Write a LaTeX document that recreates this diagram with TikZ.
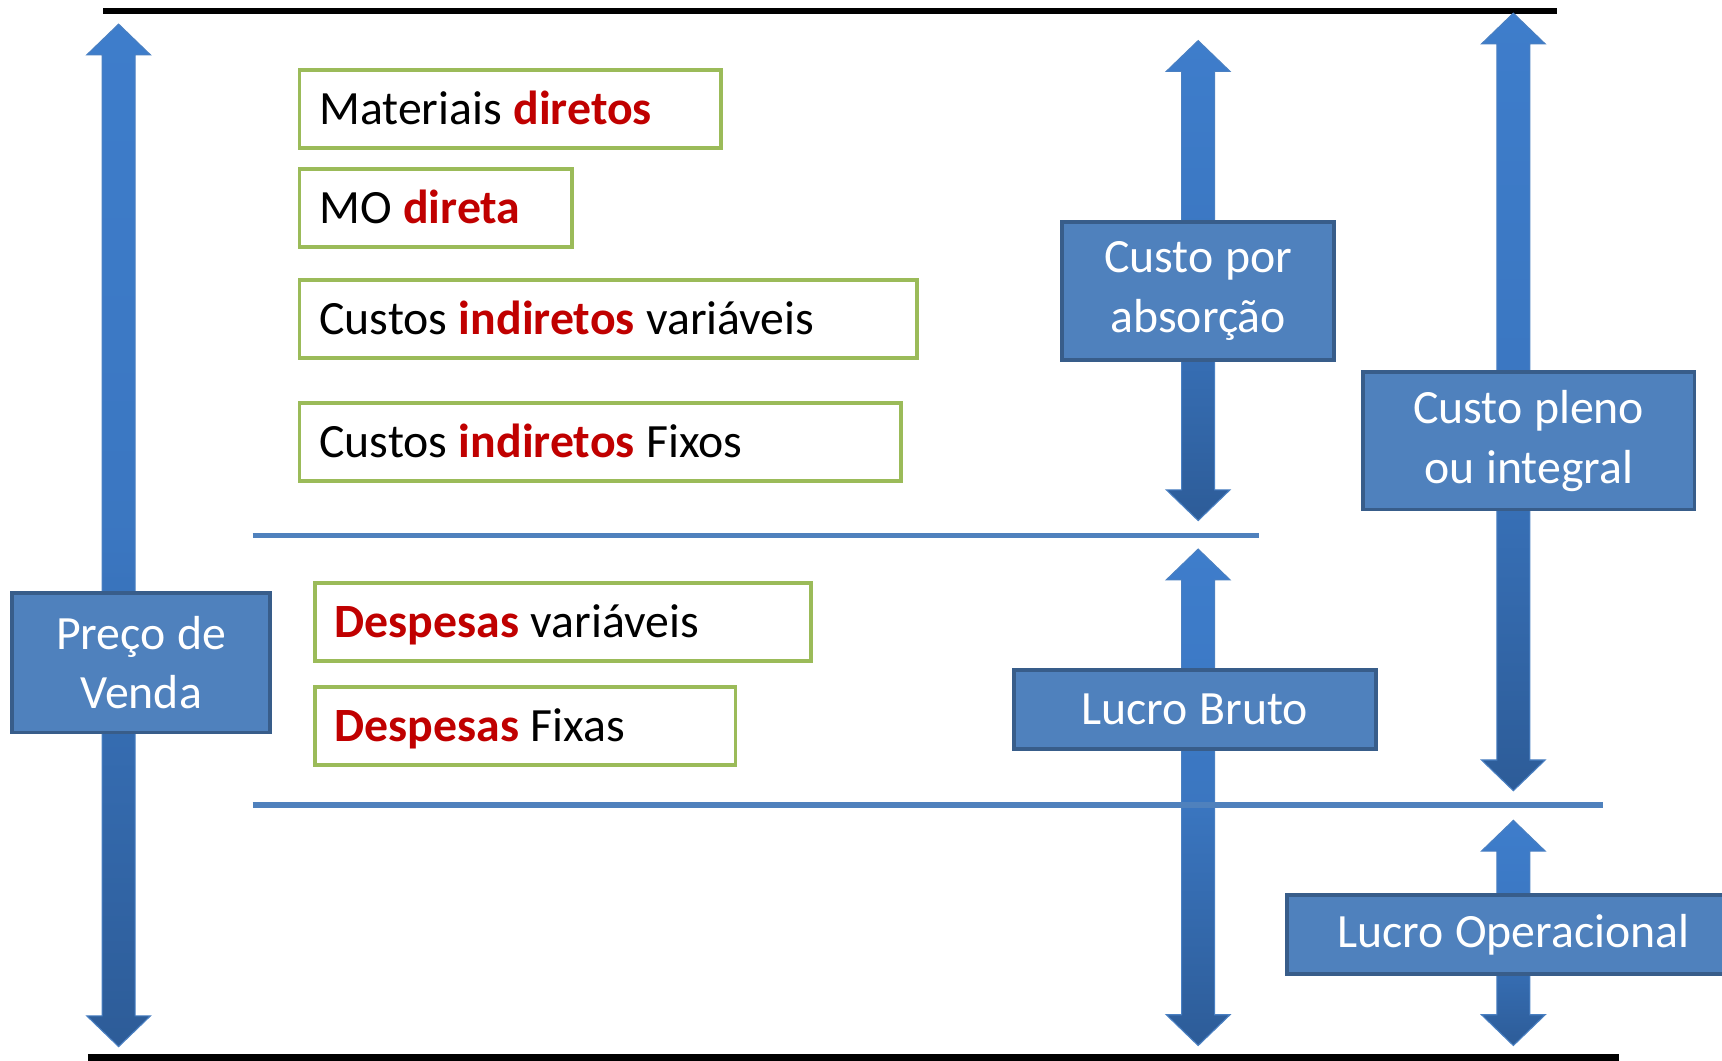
\documentclass[tikz,border=0pt]{standalone}
\usepackage{fontspec}
\setmainfont{Carlito}
\definecolor{gborder}{HTML}{9BBB59}
\definecolor{redtxt}{HTML}{C00000}
\definecolor{bfill}{HTML}{4F81BD}
\definecolor{bborder}{HTML}{385D8A}
\definecolor{arrtop}{HTML}{3E7DCB}
\definecolor{arrbot}{HTML}{2D5C98}
\definecolor{arredge}{HTML}{4A80C2}
\newcommand{\rd}[1]{\textcolor{redtxt}{\bfseries #1}}
\newcommand{\tightsp}{\spaceskip=10.5pt\relax}
% block double arrow: x, ytop, ybot
\newcommand{\blockarrow}[3]{%
  \shade[top color=arrtop, bottom color=arrbot, middle color=arrtop!80!arrbot, draw=arredge, line width=1pt]
    (#1,#2) -- ++(29,28) -- ++(-14,0) -- (#1+15,#3-28) -- ++(14,0) -- (#1,#3)
    -- ++(-29,-28) -- ++(14,0) -- (#1-15,#2+28) -- ++(-14,0) -- cycle;}
\begin{document}
\begin{tikzpicture}[x=1pt,y=-1pt,
  txt/.style={font=\fontsize{43.5}{54}\selectfont, execute at begin node=\tightsp},
  gbox/.style={txt, draw=gborder, line width=3.5pt, fill=white, anchor=north west,
    minimum height=71pt, inner xsep=18pt, inner ysep=0pt, text width=#1, align=left,
    text height=28pt, text depth=0pt},
  bbox/.style={txt, draw=bborder, fill=bfill, line width=3.5pt, text=white,
    align=center, inner sep=0pt},
  hline/.style={draw=bfill, line width=5pt},
  kline/.style={draw=black, line width=6pt}]
\useasboundingbox (0,0) rectangle (1568,966);
\clip (0,0) rectangle (1568,966);

% frame lines
\coordinate (tl) at (94,10);  \coordinate (tr) at (1418,10);
\coordinate (bl) at (80,963); \coordinate (br) at (1474,963);
\draw[kline] (tl) -- (tr);
\draw[kline] (bl) -- (br);

% block arrows
\blockarrow{108}{22}{953}
\blockarrow{1091}{37}{474}
\blockarrow{1378}{12}{720}
\blockarrow{1091}{500}{952}
\blockarrow{1378}{747}{952}

% separator lines
\coordinate (l1a) at (230,488); \coordinate (l1b) at (1146,488);
\coordinate (l2a) at (230,733); \coordinate (l2b) at (1460,733);
\draw[hline,line width=4.5pt] (l1a) -- (l1b);
\draw[hline] (l2a) -- (l2b);

% green boxes
\node[gbox=348pt] (mat) at (271,62)  {Materiais \rd{diretos}};
\node[gbox=212pt] (mo)  at (271,152) {MO \rd{direta}};
\node[gbox=526pt] (civ) at (271,253) {Custos \rd{indiretos} variáveis};
\node[gbox=512pt] (cif) at (271,365) {Custos \rd{indiretos} Fixos};
\node[gbox=416pt] (dv)  at (285,529) {\rd{Despesas} variáveis};
\node[gbox=347pt] (df)  at (285,624) {\rd{Despesas} Fixas};

% blue boxes
\node[bbox, minimum width=235pt, minimum height=127pt] (pv) at (128.5,603.5) {Preço de\\Venda};
\node[bbox, minimum width=248pt, minimum height=125pt] (cpa) at (1091,265) {Custo por\\absorção};
\node[bbox, minimum width=302pt, minimum height=125pt] (cpi) at (1392,401.5) {Custo pleno\\ou integral};
\node[bbox, minimum width=330pt, minimum height=72pt] (lb) at (1088,646) {Lucro Bruto};
\node[bbox, minimum width=412pt, minimum height=72pt] (lo) at (1378,851) {Lucro Operacional};
\end{tikzpicture}
\end{document}
